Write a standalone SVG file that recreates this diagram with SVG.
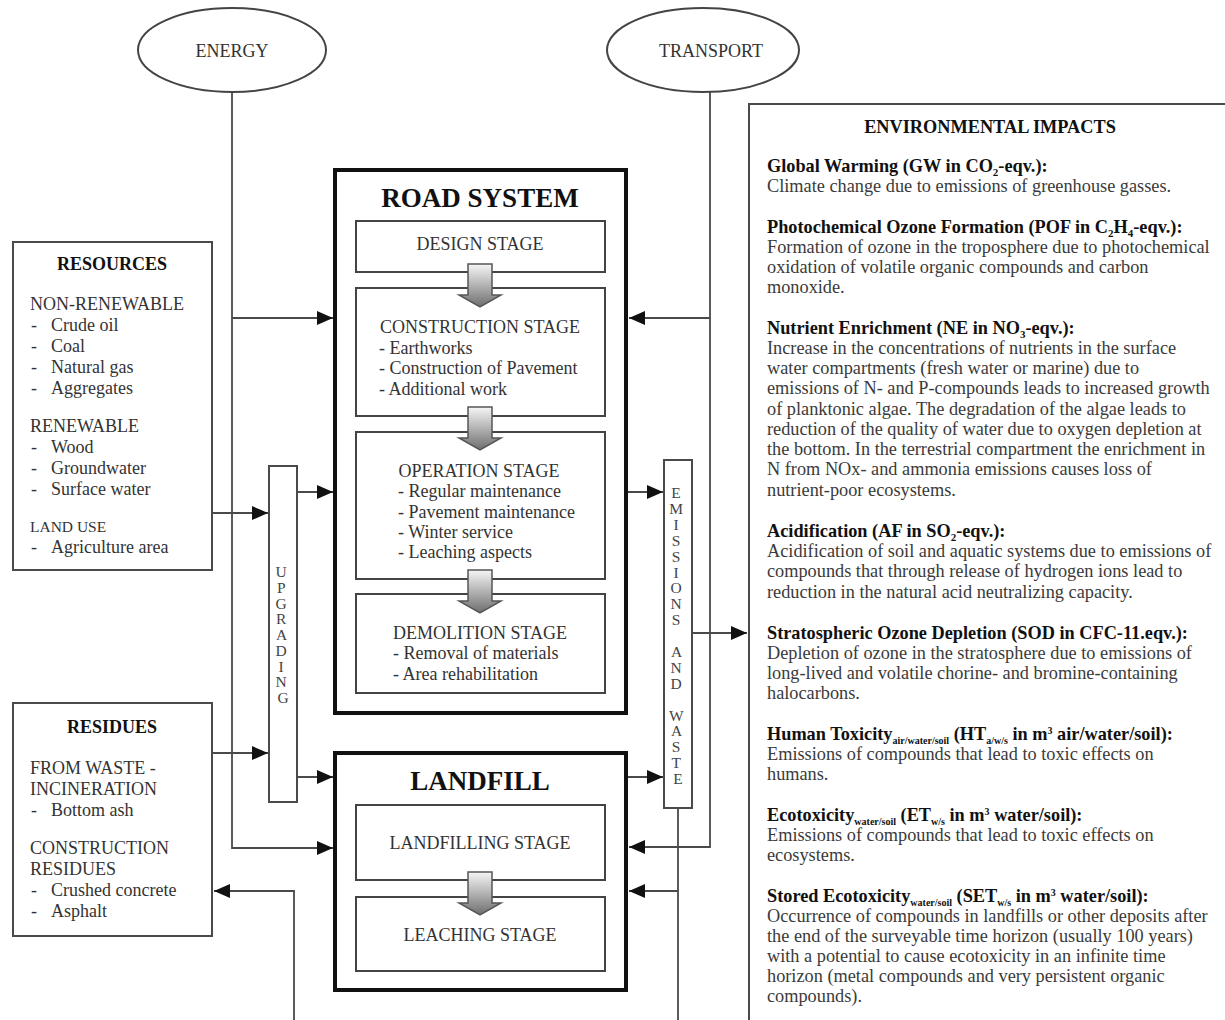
<svg xmlns="http://www.w3.org/2000/svg" width="1225" height="1020" viewBox="0 0 1225 1020">
  <style>
    text { font-family: "Liberation Serif", "Times New Roman", serif; }
    .box { fill: #fff; stroke: #4a4a4a; stroke-width: 2; }
    .thick { fill: #fff; stroke: #111; stroke-width: 4; }
    .stage { fill: #fff; stroke: #444; stroke-width: 2; }
    .conn { fill: none; stroke: #4a4a4a; stroke-width: 1.8; }
    .lbl { font-size: 18px; fill: #333; }
    .side { font-size: 18px; fill: #333; }
    .hd { font-size: 18px; font-weight: bold; fill: #111; }
    .big { font-size: 27px; font-weight: bold; fill: #111; }
    .vert { font-size: 15.5px; fill: #444; text-anchor: middle; }
    .eh { font-size: 18.3px; font-weight: bold; fill: #111; }
    .eb { font-size: 18.3px; fill: #3a3a3a; }
    .mid { text-anchor: middle; }
  </style>
  <defs>
    <marker id="ah" viewBox="0 0 16 14" refX="16" refY="7" markerWidth="16" markerHeight="14" markerUnits="userSpaceOnUse" orient="auto">
      <path d="M0,0 L16,7 L0,14 Z" fill="#111"/>
    </marker>
    <linearGradient id="flow" x1="0" y1="0" x2="0" y2="1">
      <stop offset="0" stop-color="#f6f6f6"/>
      <stop offset="1" stop-color="#6e6e6e"/>
    </linearGradient>
    <!-- hollow stage-to-stage arrow, origin at top centre -->
    <path id="stepArrow" d="M-12,0 H12 V31 H21 L0,43 L-21,31 H-12 Z" fill="url(#flow)" stroke="#555" stroke-width="1.5"/>
  </defs>

  <rect width="1225" height="1020" fill="#fff"/>

  <!-- connectors -->
  <g id="connectors" class="conn">
    <!-- energy supply -->
    <path d="M232,92 V848 H333" marker-end="url(#ah)"/>
    <path d="M232,318 H333" marker-end="url(#ah)"/>
    <!-- transport supply -->
    <path d="M710,92 V847 H629" marker-end="url(#ah)"/>
    <path d="M710,318 H629" marker-end="url(#ah)"/>
    <!-- resources / residues into upgrading -->
    <path d="M212,513 H268" marker-end="url(#ah)"/>
    <path d="M212,753 H268" marker-end="url(#ah)"/>
    <!-- upgrading out -->
    <path d="M297,492 H333" marker-end="url(#ah)"/>
    <path d="M297,777 H333" marker-end="url(#ah)"/>
    <!-- into emissions and waste -->
    <path d="M627,492 H663" marker-end="url(#ah)"/>
    <path d="M627,777 H663" marker-end="url(#ah)"/>
    <!-- emissions to impacts -->
    <path d="M692,633 H747" marker-end="url(#ah)"/>
    <!-- waste leaving downward, returning to landfill -->
    <path d="M678,808 V1022"/>
    <path d="M678,891 H629" marker-end="url(#ah)"/>
    <!-- recycled residues returning -->
    <path d="M294,1022 V891 H214" marker-end="url(#ah)"/>
  </g>

  <!-- energy -->
  <g id="energy">
    <ellipse cx="232" cy="50" rx="94" ry="42" fill="#fff" stroke="#444" stroke-width="2"/>
    <text x="232" y="57" class="lbl mid">ENERGY</text>
  </g>

  <!-- transport -->
  <g id="transport">
    <ellipse cx="703" cy="50" rx="96" ry="42" fill="#fff" stroke="#444" stroke-width="2"/>
    <text x="711" y="57" class="lbl mid">TRANSPORT</text>
  </g>

  <!-- resources -->
  <g id="resources">
    <rect x="13" y="242" width="199" height="328" class="box"/>
    <text x="112" y="270" class="hd mid">RESOURCES</text>
    <text class="side">
      <tspan x="30" y="310">NON-RENEWABLE</tspan>
      <tspan x="31" y="331">-</tspan><tspan x="51" y="331">Crude oil</tspan>
      <tspan x="31" y="352">-</tspan><tspan x="51" y="352">Coal</tspan>
      <tspan x="31" y="373">-</tspan><tspan x="51" y="373">Natural gas</tspan>
      <tspan x="31" y="394">-</tspan><tspan x="51" y="394">Aggregates</tspan>
      <tspan x="30" y="432">RENEWABLE</tspan>
      <tspan x="31" y="453">-</tspan><tspan x="51" y="453">Wood</tspan>
      <tspan x="31" y="474">-</tspan><tspan x="51" y="474">Groundwater</tspan>
      <tspan x="31" y="495">-</tspan><tspan x="51" y="495">Surface water</tspan>
      <tspan x="30" y="532" font-size="15.5">LAND USE</tspan>
      <tspan x="31" y="553">-</tspan><tspan x="51" y="553">Agriculture area</tspan>
    </text>
  </g>

  <!-- residues -->
  <g id="residues">
    <rect x="13" y="703" width="199" height="233" class="box"/>
    <text x="112" y="733" class="hd mid">RESIDUES</text>
    <text class="side">
      <tspan x="30" y="774">FROM WASTE -</tspan>
      <tspan x="30" y="795">INCINERATION</tspan>
      <tspan x="31" y="816">-</tspan><tspan x="51" y="816">Bottom ash</tspan>
      <tspan x="30" y="854">CONSTRUCTION</tspan>
      <tspan x="30" y="875">RESIDUES</tspan>
      <tspan x="31" y="896">-</tspan><tspan x="51" y="896">Crushed concrete</tspan>
      <tspan x="31" y="917">-</tspan><tspan x="51" y="917">Asphalt</tspan>
    </text>
  </g>

  <!-- upgrading -->
  <g id="upgrading">
    <rect x="269" y="466" width="28" height="336" class="box"/>
    <text class="vert">
      <tspan x="283" y="577">U</tspan>
      <tspan x="283" y="593">P</tspan>
      <tspan x="283" y="609">G</tspan>
      <tspan x="283" y="624">R</tspan>
      <tspan x="283" y="640">A</tspan>
      <tspan x="283" y="656">D</tspan>
      <tspan x="283" y="672">I</tspan>
      <tspan x="283" y="687">N</tspan>
      <tspan x="283" y="703">G</tspan>
    </text>
  </g>

  <!-- road system -->
  <g id="road-system">
    <rect x="335" y="170" width="291" height="543" class="thick"/>
    <text x="480" y="207" class="big mid">ROAD SYSTEM</text>
  </g>
  <g id="design-stage">
    <rect x="356" y="221" width="249" height="51" class="stage"/>
    <text x="480" y="250" class="lbl mid">DESIGN STAGE</text>
  </g>
  <g id="construction-stage">
    <rect x="356" y="288" width="249" height="128" class="stage"/>
    <text x="480" y="333" class="lbl mid">CONSTRUCTION STAGE</text>
    <text class="lbl">
      <tspan x="379" y="354">- Earthworks</tspan>
      <tspan x="379" y="374">- Construction of Pavement</tspan>
      <tspan x="379" y="395">- Additional work</tspan>
    </text>
  </g>
  <g id="operation-stage">
    <rect x="356" y="432" width="249" height="147" class="stage"/>
    <text x="479" y="477" class="lbl mid">OPERATION STAGE</text>
    <text class="lbl">
      <tspan x="398" y="497">- Regular maintenance</tspan>
      <tspan x="398" y="518">- Pavement maintenance</tspan>
      <tspan x="398" y="538">- Winter service</tspan>
      <tspan x="398" y="558">- Leaching aspects</tspan>
    </text>
  </g>
  <g id="demolition-stage">
    <rect x="356" y="594" width="249" height="99" class="stage"/>
    <text x="480" y="639" class="lbl mid">DEMOLITION STAGE</text>
    <text class="lbl">
      <tspan x="393" y="659">-  Removal of materials</tspan>
      <tspan x="393" y="680">-  Area rehabilitation</tspan>
    </text>
  </g>

  <!-- landfill -->
  <g id="landfill">
    <rect x="335" y="753" width="291" height="237" class="thick"/>
    <text x="480" y="790" class="big mid">LANDFILL</text>
  </g>
  <g id="landfilling-stage">
    <rect x="356" y="805" width="249" height="75" class="stage"/>
    <text x="480" y="849" class="lbl mid">LANDFILLING STAGE</text>
  </g>
  <g id="leaching-stage">
    <rect x="356" y="897" width="249" height="74" class="stage"/>
    <text x="480" y="941" class="lbl mid">LEACHING STAGE</text>
  </g>

  <!-- stage-to-stage flow arrows -->
  <g id="stage-flow">
    <use href="#stepArrow" x="480" y="264"/>
    <use href="#stepArrow" x="480" y="407"/>
    <use href="#stepArrow" x="480" y="570"/>
    <use href="#stepArrow" x="480" y="872"/>
  </g>

  <!-- emissions and waste -->
  <g id="emissions-waste">
    <rect x="664" y="460" width="28" height="348" class="box"/>
    <text class="vert">
      <tspan x="678" y="498">E</tspan>
      <tspan x="678" y="514">M</tspan>
      <tspan x="678" y="530">I</tspan>
      <tspan x="678" y="546">S</tspan>
      <tspan x="678" y="562">S</tspan>
      <tspan x="678" y="578">I</tspan>
      <tspan x="678" y="593">O</tspan>
      <tspan x="678" y="609">N</tspan>
      <tspan x="678" y="625">S</tspan>
      <tspan x="678" y="657">A</tspan>
      <tspan x="678" y="673">N</tspan>
      <tspan x="678" y="689">D</tspan>
      <tspan x="678" y="721">W</tspan>
      <tspan x="678" y="736">A</tspan>
      <tspan x="678" y="752">S</tspan>
      <tspan x="678" y="768">T</tspan>
      <tspan x="678" y="784">E</tspan>
    </text>
  </g>

  <!-- environmental impacts -->
  <g id="environmental-impacts">
    <rect x="749" y="104" width="490" height="930" class="box"/>
    <text x="990" y="133" class="eh mid" font-size="17">ENVIRONMENTAL IMPACTS</text>

    <text x="767" y="172" class="eh">Global Warming (GW in CO<tspan font-size="11" dy="4">2</tspan><tspan dy="-4">-eqv.):</tspan></text>
    <text x="767" y="192" class="eb">Climate change due to emissions of greenhouse gasses.</text>

    <text x="767" y="233" class="eh">Photochemical Ozone Formation (POF in C<tspan font-size="11" dy="4">2</tspan><tspan dy="-4">H</tspan><tspan font-size="11" dy="4">4</tspan><tspan dy="-4">-eqv.):</tspan></text>
    <text class="eb">
      <tspan x="767" y="253">Formation of ozone in the troposphere due to photochemical</tspan>
      <tspan x="767" y="273">oxidation of volatile organic compounds and carbon</tspan>
      <tspan x="767" y="293">monoxide.</tspan>
    </text>

    <text x="767" y="334" class="eh">Nutrient Enrichment (NE in NO<tspan font-size="11" dy="4">3</tspan><tspan dy="-4">-eqv.):</tspan></text>
    <text class="eb">
      <tspan x="767" y="354">Increase in the concentrations of nutrients in the surface</tspan>
      <tspan x="767" y="374">water compartments (fresh water or marine) due to</tspan>
      <tspan x="767" y="394">emissions of N- and P-compounds leads to increased growth</tspan>
      <tspan x="767" y="415">of planktonic algae. The degradation of the algae leads to</tspan>
      <tspan x="767" y="435">reduction of the quality of water due to oxygen depletion at</tspan>
      <tspan x="767" y="455">the bottom. In the terrestrial compartment the enrichment in</tspan>
      <tspan x="767" y="475">N from NOx- and ammonia emissions causes loss of</tspan>
      <tspan x="767" y="496">nutrient-poor ecosystems.</tspan>
    </text>

    <text x="767" y="537" class="eh">Acidification (AF in SO<tspan font-size="11" dy="4">2</tspan><tspan dy="-4">-eqv.):</tspan></text>
    <text class="eb">
      <tspan x="767" y="557">Acidification of soil and aquatic systems due to emissions of</tspan>
      <tspan x="767" y="577">compounds that through release of hydrogen ions lead to</tspan>
      <tspan x="767" y="598">reduction in the natural acid neutralizing capacity.</tspan>
    </text>

    <text x="767" y="639" class="eh">Stratospheric Ozone Depletion (SOD in CFC-11.eqv.):</text>
    <text class="eb">
      <tspan x="767" y="659">Depletion of ozone in the stratosphere due to emissions of</tspan>
      <tspan x="767" y="679">long-lived and volatile chorine- and bromine-containing</tspan>
      <tspan x="767" y="699">halocarbons.</tspan>
    </text>

    <text x="767" y="740" class="eh">Human Toxicity<tspan font-size="10" dy="4">air/water/soil</tspan><tspan dy="-4"> (HT</tspan><tspan font-size="10" dy="4">a/w/s</tspan><tspan dy="-4"> in m</tspan><tspan font-size="10" dy="-6">3</tspan><tspan dy="6"> air/water/soil):</tspan></text>
    <text class="eb">
      <tspan x="767" y="760">Emissions of compounds that lead to toxic effects on</tspan>
      <tspan x="767" y="780">humans.</tspan>
    </text>

    <text x="767" y="821" class="eh">Ecotoxicity<tspan font-size="10" dy="4">water/soil</tspan><tspan dy="-4"> (ET</tspan><tspan font-size="10" dy="4">w/s</tspan><tspan dy="-4"> in m</tspan><tspan font-size="10" dy="-6">3</tspan><tspan dy="6"> water/soil):</tspan></text>
    <text class="eb">
      <tspan x="767" y="841">Emissions of compounds that lead to toxic effects on</tspan>
      <tspan x="767" y="861">ecosystems.</tspan>
    </text>

    <text x="767" y="902" class="eh">Stored Ecotoxicity<tspan font-size="10" dy="4">water/soil</tspan><tspan dy="-4"> (SET</tspan><tspan font-size="10" dy="4">w/s</tspan><tspan dy="-4"> in m</tspan><tspan font-size="10" dy="-6">3</tspan><tspan dy="6"> water/soil):</tspan></text>
    <text class="eb">
      <tspan x="767" y="922">Occurrence of compounds in landfills or other deposits after</tspan>
      <tspan x="767" y="942">the end of the surveyable time horizon (usually 100 years)</tspan>
      <tspan x="767" y="962">with a potential to cause  ecotoxicity in an infinite time</tspan>
      <tspan x="767" y="982">horizon (metal compounds and very persistent organic</tspan>
      <tspan x="767" y="1002">compounds).</tspan>
    </text>
  </g>
</svg>
